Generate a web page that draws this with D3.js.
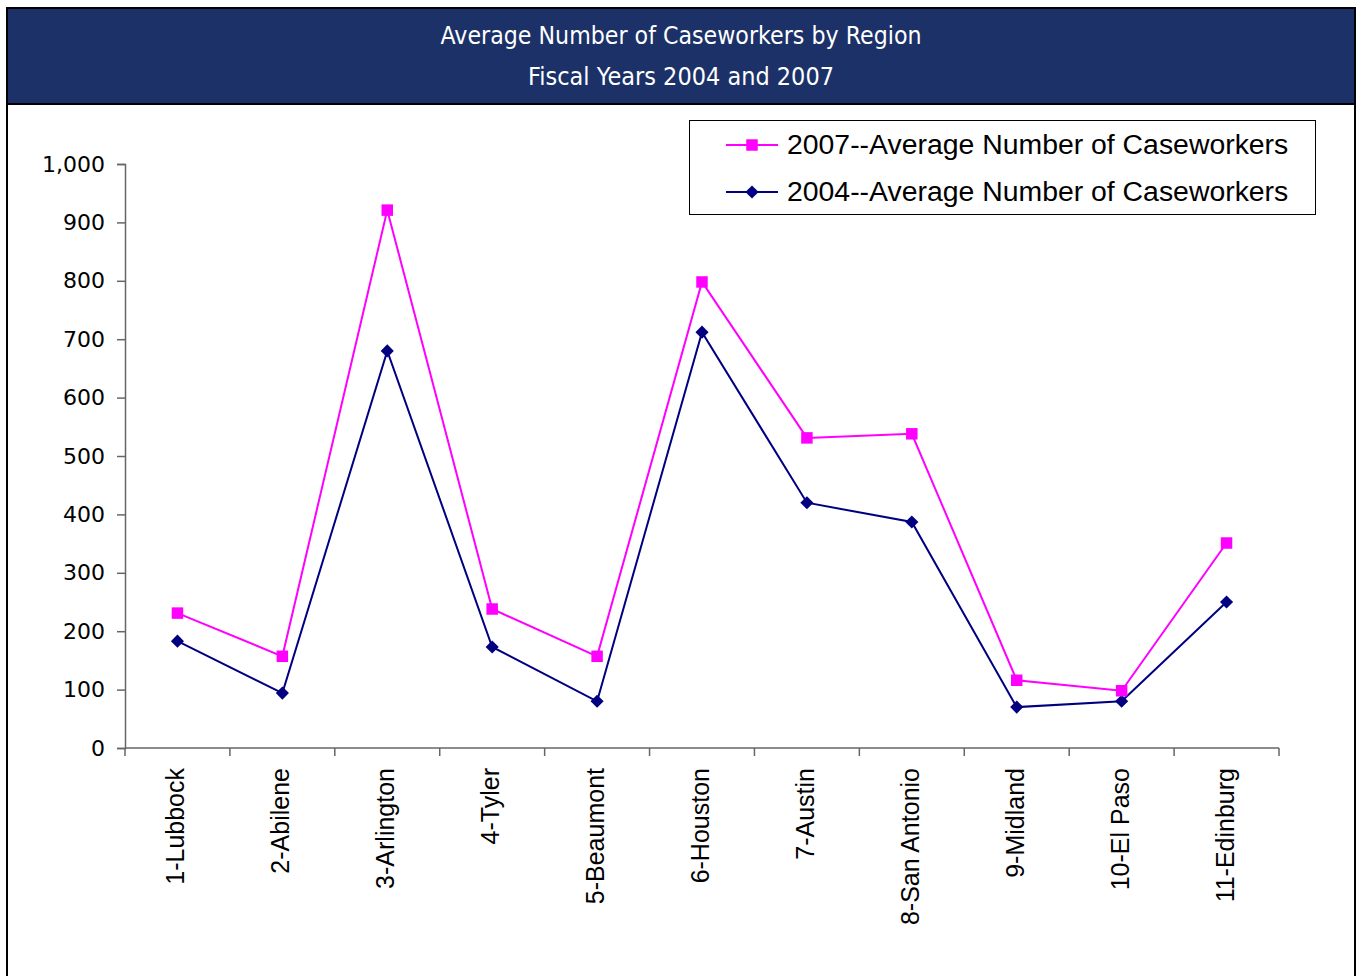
<!DOCTYPE html>
<html>
<head>
<meta charset="utf-8">
<script src="https://cdn.jsdelivr.net/npm/d3@7"></script>
<style>
  html, body { margin: 0; padding: 0; background: #fff; }
  svg { display: block; }
</style>
</head>
<body>
<svg id="chart" width="1356" height="976"></svg>
<script>
// Regions and average caseworker counts
const regions = ["1-Lubbock", "2-Abilene", "3-Arlington", "4-Tyler", "5-Beaumont", "6-Houston",
  "7-Austin", "8-San Antonio", "9-Midland", "10-El Paso", "11-Edinburg"];
const caseworkers2007 = [231, 157, 921, 238, 157, 798, 531, 538, 116, 98, 351];
const caseworkers2004 = [183, 94, 680, 173, 80, 712, 420, 387, 70, 80, 250];
const yTicks = [0, 100, 200, 300, 400, 500, 600, 700, 800, 900, 1000];
const titleLines = ["Average Number of Caseworkers by Region", "Fiscal Years 2004 and 2007"];
const seriesNames = ["2007--Average Number of Caseworkers", "2004--Average Number of Caseworkers"];

(function () {
const svg = d3.select("#chart");

// Frame and title band
svg.append("rect").attr("x", 7).attr("y", 8).attr("width", 1348).attr("height", 980)
  .attr("fill", "#fff").attr("stroke", "#000").attr("stroke-width", 2);
svg.append("rect").attr("x", 7).attr("y", 8).attr("width", 1348).attr("height", 96)
  .attr("fill", "#1b3168").attr("stroke", "#000").attr("stroke-width", 2);
svg.selectAll("text.title").data(titleLines).join("text")
  .attr("class", "title")
  .attr("x", 681).attr("y", (d, i) => 44 + i * 41)
  .attr("text-anchor", "middle")
  .attr("fill", "#fff")
  .attr("font-family", "'DejaVu Sans', sans-serif")
  .attr("font-size", 24.5)
  .attr("textLength", (d, i) => i === 0 ? 481 : 306)
  .attr("lengthAdjust", "spacingAndGlyphs")
  .text(d => d);

const plotLeft = 125, plotRight = 1279, plotTop = 164, plotBottom = 748;

const x = d3.scaleBand().domain(regions).range([plotLeft, plotRight]);
const y = d3.scaleLinear().domain([0, 1000]).range([plotBottom, plotTop]);

// Y axis
const yAxis = svg.append("g").attr("transform", `translate(${plotLeft},0)`)
  .call(d3.axisLeft(y).tickValues(yTicks).tickSize(8).tickPadding(12)
    .tickFormat(d3.format(",")));
yAxis.select(".domain").attr("stroke", "#666").attr("stroke-width", 1.5);
yAxis.selectAll(".tick line").attr("stroke", "#666").attr("stroke-width", 1.5);
yAxis.selectAll(".tick text")
  .attr("font-family", "'DejaVu Sans', sans-serif")
  .attr("font-size", 22).attr("fill", "#000");

// X axis: ticks at category boundaries
const xAxisG = svg.append("g").attr("transform", `translate(0,${plotBottom})`);
xAxisG.append("line").attr("x1", plotLeft).attr("x2", plotRight).attr("y1", 0).attr("y2", 0)
  .attr("stroke", "#666").attr("stroke-width", 1.5);
const boundaries = regions.map(r => x(r)).concat([plotRight]);
xAxisG.selectAll("line.tk").data(boundaries).join("line")
  .attr("class", "tk")
  .attr("x1", d => d).attr("x2", d => d).attr("y1", 0).attr("y2", 8)
  .attr("stroke", "#666").attr("stroke-width", 1.5);
xAxisG.selectAll("text").data(regions).join("text")
  .attr("transform", d => `translate(${x(d) + x.bandwidth() / 2 + 7},20) rotate(-90)`)
  .attr("text-anchor", "end")
  .attr("font-family", "'Liberation Sans', Arial, sans-serif")
  .attr("font-size", 25)
  .attr("fill", "#000")
  .text(d => d);

const cx = d => x(d) + x.bandwidth() / 2;

const series = [
  { name: seriesNames[0], values: caseworkers2007, color: "#ff00ff", marker: "square" },
  { name: seriesNames[1], values: caseworkers2004, color: "#000080", marker: "diamond" }
];

const line = d3.line().x((d, i) => cx(regions[i])).y(d => y(d));
const symbolFor = s => s.marker === "square"
  ? d3.symbol().type(d3.symbolSquare).size(132)
  : d3.symbol().type(d3.symbolDiamond2).size(110);

// Draw 2004 first so 2007 sits above where they meet
series.slice().reverse().forEach(s => {
  svg.append("path").datum(s.values)
    .attr("d", line).attr("fill", "none")
    .attr("stroke", s.color).attr("stroke-width", 2);
  svg.append("g").selectAll("path").data(s.values).join("path")
    .attr("d", symbolFor(s))
    .attr("transform", (d, i) => `translate(${cx(regions[i])},${y(d)})`)
    .attr("fill", s.color);
});

// Legend
const lg = svg.append("g");
lg.append("rect").attr("x", 689.5).attr("y", 120.5).attr("width", 626).attr("height", 94)
  .attr("fill", "#fff").attr("stroke", "#000").attr("stroke-width", 1);
series.forEach((s, i) => {
  const ly = 145 + i * 47;
  lg.append("line").attr("x1", 726).attr("x2", 778).attr("y1", ly).attr("y2", ly)
    .attr("stroke", s.color).attr("stroke-width", 2);
  lg.append("path").attr("d", symbolFor(s))
    .attr("transform", `translate(752,${ly})`)
    .attr("fill", s.color);
  lg.append("text").attr("x", 787).attr("y", ly + 9)
    .attr("font-family", "'Liberation Sans', Arial, sans-serif")
    .attr("font-size", 28.4).attr("fill", "#000")
    .text(s.name);
});
})();
</script>
</body>
</html>
